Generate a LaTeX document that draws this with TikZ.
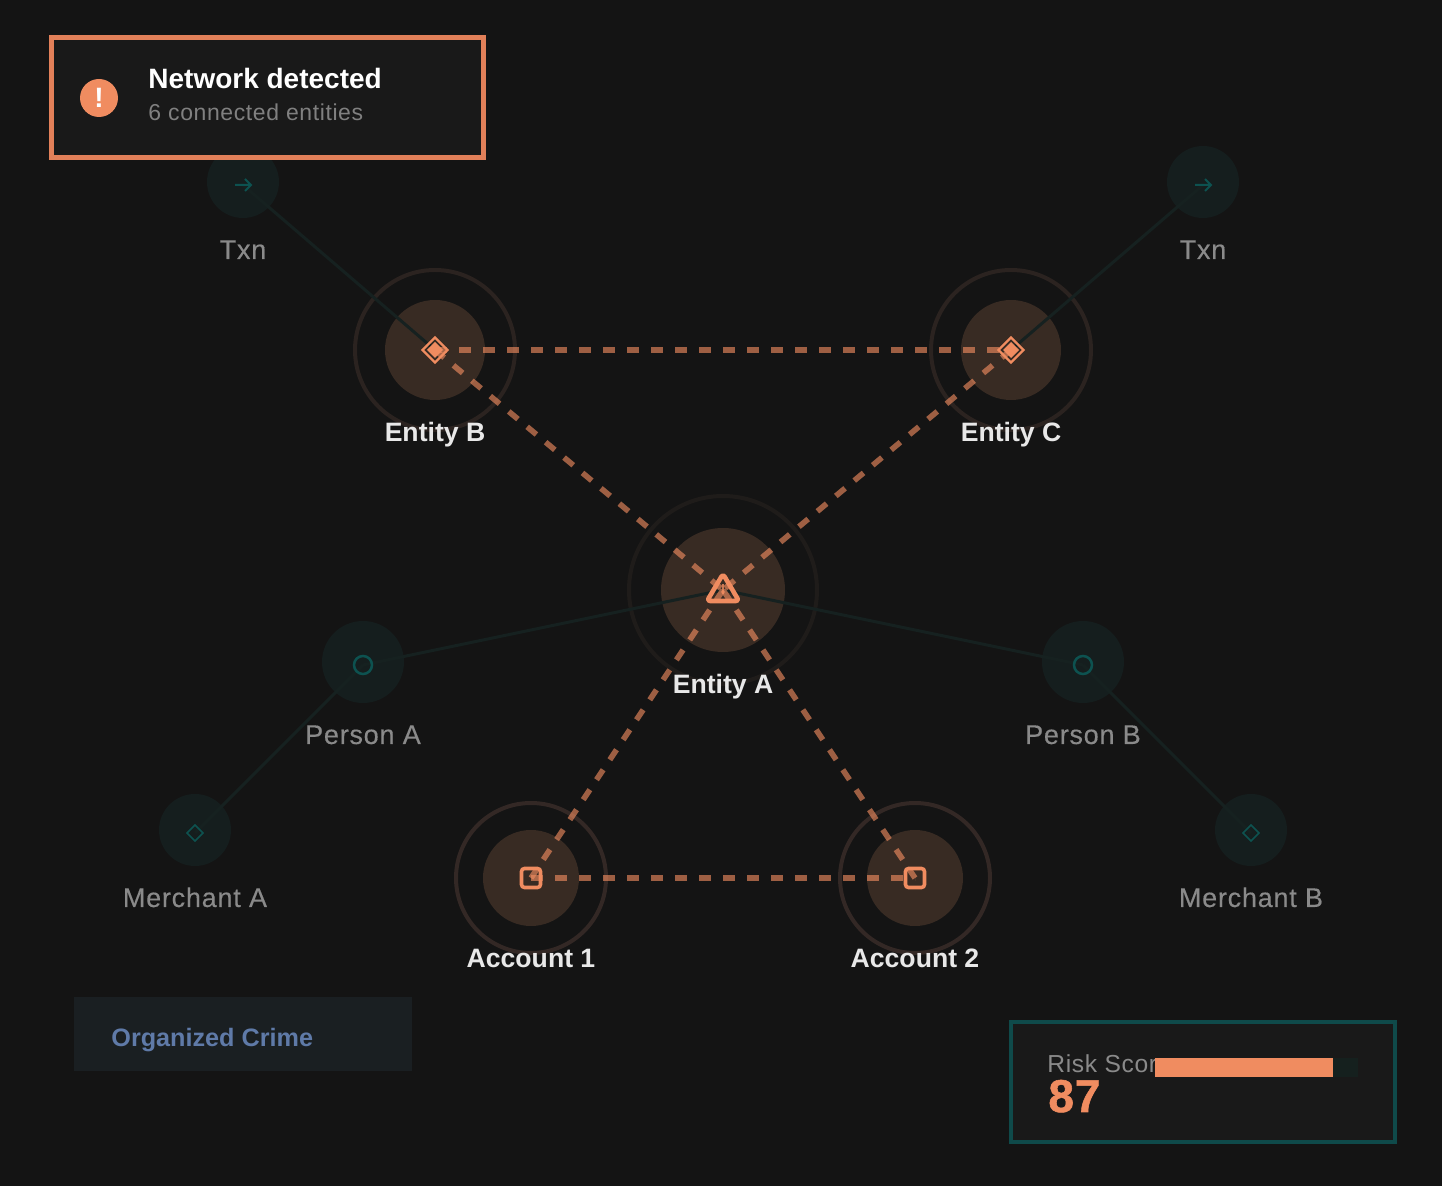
\documentclass[tikz,border=0pt]{standalone}
\usepackage{fontspec}
\setmainfont{Liberation Sans}
\newfontfamily\dimfont[LetterSpace=2.8,FakeBold=0.3]{Liberation Sans}
\newfontfamily\subfont[LetterSpace=2.6]{Liberation Sans}
\newfontfamily\heavyfont[FakeBold=1.2,LetterSpace=2]{Liberation Sans Bold}
\usetikzlibrary{shapes.geometric}
\definecolor{bgc}{HTML}{141414}
\definecolor{panel}{HTML}{191919}
\definecolor{orng}{HTML}{F08C60}
\definecolor{alertb}{HTML}{E28059}
\definecolor{halo}{HTML}{382B23}
\definecolor{ringb}{HTML}{2B2320}
\definecolor{ringd}{HTML}{332825}
\definecolor{ringa}{HTML}{1F1C1A}
\definecolor{tealhalo}{HTML}{151E1E}
\definecolor{tealline}{HTML}{162120}
\definecolor{tealicon}{HTML}{0D5250}
\definecolor{tealbox}{HTML}{0F4A4A}
\definecolor{dimtext}{HTML}{8A8A8A}
\definecolor{subtext}{HTML}{808080}
\definecolor{brighttext}{HTML}{E8E8E8}
\definecolor{crimeb}{HTML}{1A1F22}
\definecolor{crimet}{HTML}{5F7AA8}
\definecolor{track}{HTML}{15201E}
\tikzset{
  x=0.5pt,y=-0.5pt,
  disc/.style={circle,inner sep=0pt,outer sep=0pt,draw=none},
  bighalo/.style={disc,fill=halo},
  ringc/.style={circle,inner sep=0pt,outer sep=0pt,draw=ringb,line width=2pt,fill=none},
  sidehalo/.style={disc,fill=tealhalo},
  redlink/.style={draw=orng,opacity=.63,line width=2.8pt,dash pattern=on 6pt off 6pt},
  teallink/.style={draw=tealline,line width=1.5pt},
  dimlabel/.style={anchor=base,text=dimtext,font=\dimfont\fontsize{13.5}{15}\selectfont,inner sep=0pt},
  mainlabel/.style={anchor=base,text=brighttext,font=\fontsize{13.3}{15}\selectfont\bfseries,inner sep=0pt},
  dia/.style={diamond,inner sep=0pt,outer sep=0pt,aspect=1},
  lefttext/.style={anchor=base west,inner sep=0pt},
}
\begin{document}
\begin{tikzpicture}
\fill[bgc] (0,0) rectangle (1442,1186);
\useasboundingbox (0,0) rectangle (1442,1186);
% side halos
\node[sidehalo,minimum size=36pt] (txnl) at (243,182) {};
\node[sidehalo,minimum size=36pt] (txnr) at (1203,182) {};
\node[sidehalo,minimum size=41pt] (pa) at (363,662) {};
\node[sidehalo,minimum size=41pt] (pb) at (1083,662) {};
\node[sidehalo,minimum size=36pt] (ma) at (195,830) {};
\node[sidehalo,minimum size=36pt] (mb) at (1251,830) {};
% main rings and halos
\node[ringc,draw=ringa,minimum size=94pt] (ringA) at (723,590) {};
\node[bighalo,minimum size=62pt] (ea) at (723,590) {};
\node[ringc,minimum size=80pt] (ringB) at (435,350) {};
\node[bighalo,minimum size=50pt] (eb) at (435,350) {};
\node[ringc,minimum size=80pt] (ringC) at (1011,350) {};
\node[bighalo,minimum size=50pt] (ec) at (1011,350) {};
\node[ringc,draw=ringd,minimum size=75pt] (ringD) at (531,878) {};
\node[bighalo,minimum size=48pt] (a1) at (531,878) {};
\node[ringc,draw=ringd,minimum size=75pt] (ringE) at (915,878) {};
\node[bighalo,minimum size=48pt] (a2) at (915,878) {};
% icon anchors on teal nodes
\coordinate (itl) at (243,185);
\coordinate (itr) at (1203,185);
\coordinate (ipa) at (363,665);
\coordinate (ipb) at (1083,665);
\coordinate (ima) at (195,833);
\coordinate (imb) at (1251,833);
% teal links
\draw[teallink] (itl) -- (eb.center);
\draw[teallink] (itr) -- (ec.center);
\draw[teallink] (ea.center) -- (ipa);
\draw[teallink] (ea.center) -- (ipb);
\draw[teallink] (ipa) -- (ima);
\draw[teallink] (ipb) -- (imb);
% red links
\draw[redlink] (eb.center) -- (ec.center);
\draw[redlink] (eb.center) -- (ea.center);
\draw[redlink] (ec.center) -- (ea.center);
\draw[redlink] (ea.center) -- (a1.center);
\draw[redlink] (ea.center) -- (a2.center);
\draw[redlink] (a1.center) -- (a2.center);
% teal icons
\draw[tealicon,line width=1pt] (235,185) -- (251,185) (245,179) -- (251,185) -- (245,191);
\draw[tealicon,line width=1pt] (1195,185) -- (1211,185) (1205,179) -- (1211,185) -- (1205,191);
\node[circle,draw=tealicon,line width=1.25pt,minimum size=9pt,inner sep=0pt] (ipac) at (ipa) {};
\node[circle,draw=tealicon,line width=1.25pt,minimum size=9pt,inner sep=0pt] (ipbc) at (ipb) {};
\node[dia,draw=tealicon,line width=.8pt,minimum size=8pt] (imad) at (ima) {};
\node[dia,draw=tealicon,line width=.8pt,minimum size=8pt] (imbd) at (imb) {};
% orange icons
\node[dia,draw=orng,line width=1.2pt,minimum size=12.5pt] (ibo) at (eb.center) {};
\node[dia,fill=orng,minimum size=8pt] (ibi) at (eb.center) {};
\node[dia,draw=orng,line width=1.2pt,minimum size=12.5pt] (ico) at (ec.center) {};
\node[dia,fill=orng,minimum size=8pt] (ici) at (ec.center) {};
\node[rectangle,rounded corners=1.5pt,draw=orng,line width=1.8pt,minimum size=9.5pt,inner sep=0pt] (i1) at (a1.center) {};
\node[rectangle,rounded corners=1.5pt,draw=orng,line width=1.8pt,minimum size=9.5pt,inner sep=0pt] (i2) at (a2.center) {};
\draw[orng,line width=2.3pt,line join=round,rounded corners=1.5pt] (723,574) -- (739,601) -- (707,601) -- cycle;
\draw[orng,line width=1.4pt,opacity=.8] (723,584) -- (723,594);
% labels
\node[dimlabel] (ltl) at (243,259) {Txn};
\node[dimlabel] (ltr) at (1203,259) {Txn};
\node[dimlabel] (lpa) at (363,744) {Person A};
\node[dimlabel] (lpb) at (1083,744) {Person B};
\node[dimlabel] (lma) at (195,907) {Merchant A};
\node[dimlabel] (lmb) at (1251,907) {Merchant B};
\node[mainlabel] (lea) at (723,694) {Entity A};
\node[mainlabel] (leb) at (435,442) {Entity B};
\node[mainlabel] (lec) at (1011,442) {Entity C};
\node[mainlabel] (la1) at (531,968) {Account 1};
\node[mainlabel] (la2) at (915,968) {Account 2};
% alert
\node[draw=alertb,fill=panel,line width=2.5pt,rectangle,minimum width=216pt,minimum height=60pt,inner sep=0pt] (alert) at (267,98) {};
\node[disc,fill=orng,minimum size=19pt,text=white,font=\fontsize{14}{16}\selectfont\bfseries] (aicon) at (99,98) {!};
\node[lefttext,text=white,font=\fontsize{14}{16}\selectfont\bfseries] (atitle) at (148,89) {Network detected};
\node[lefttext,text=subtext,font=\subfont\fontsize{11.5}{14}\selectfont] (asub) at (148,121) {6 connected entities};
% crime tag
\node[rectangle,fill=crimeb,minimum width=169pt,minimum height=37pt,inner sep=0pt] (crime) at (243,1034) {};
\node[lefttext,text=crimet,font=\fontsize{12.6}{15}\selectfont\bfseries] (crimel) at (111,1047) {Organized Crime};
% risk
\node[rectangle,draw=tealbox,fill=panel,line width=2pt,minimum width=192pt,minimum height=60pt,inner sep=0pt] (risk) at (1203,1082) {};
\node[lefttext,text=dimtext,font=\subfont\fontsize{12.3}{14}\selectfont] (rlabel) at (1047,1073) {Risk Score};
\node[rectangle,fill=track,minimum width=101.5pt,minimum height=9.5pt,inner sep=0pt,anchor=west] (rtrack) at (1155,1067.5) {};
\node[rectangle,fill=orng,minimum width=89pt,minimum height=9.5pt,inner sep=0pt,anchor=west] (rbar) at (1155,1067.5) {};
\node[lefttext,text=orng,font=\heavyfont\fontsize{23}{25}\selectfont] (rval) at (1048,1112) {87};
\end{tikzpicture}
\end{document}
